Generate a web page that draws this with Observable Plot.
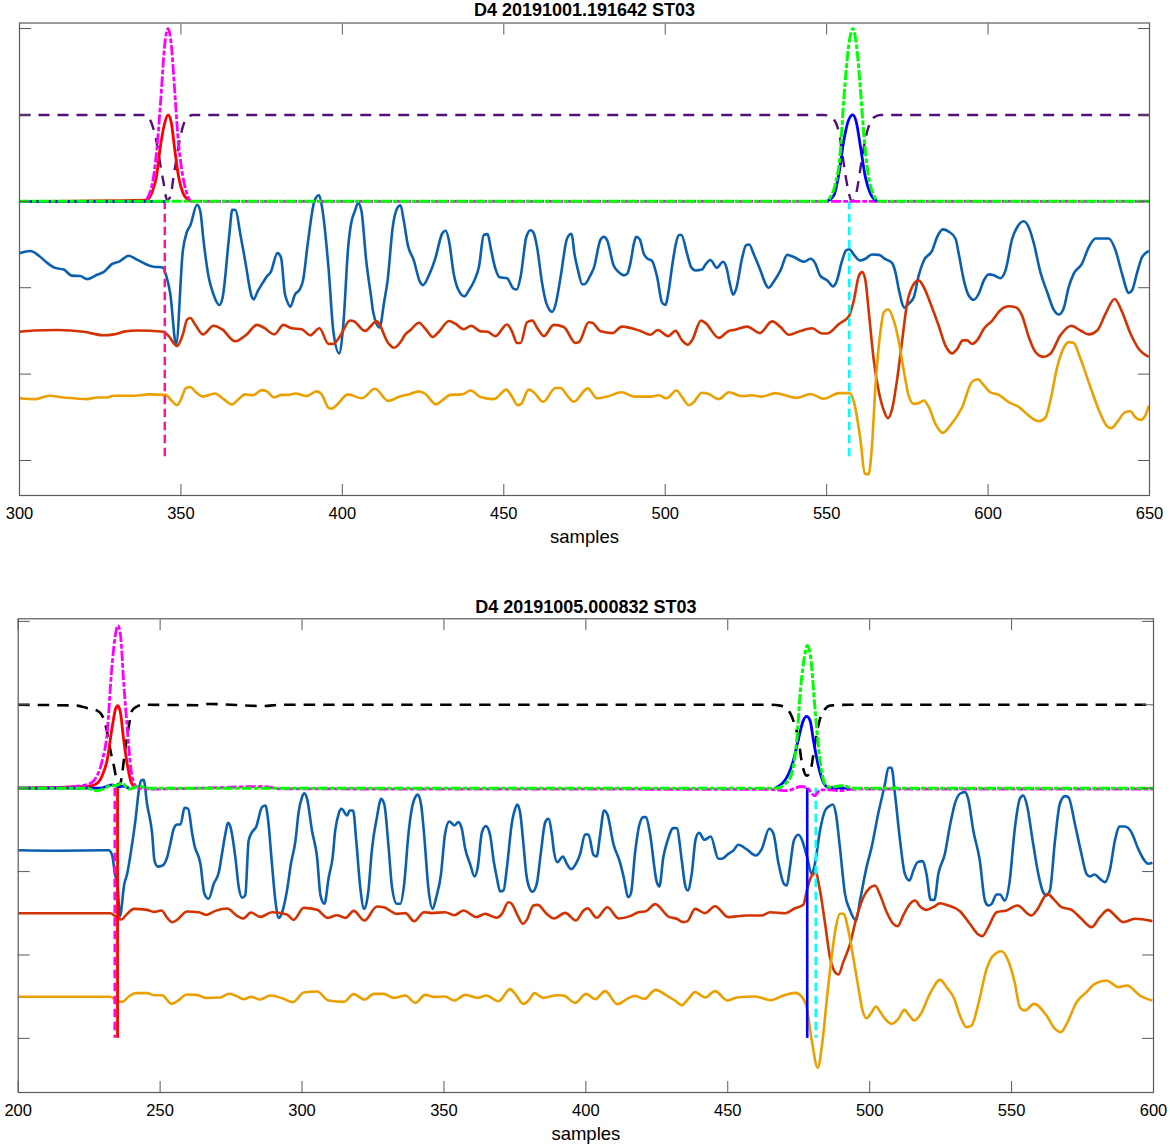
<!DOCTYPE html>
<html>
<head>
<meta charset="utf-8">
<script src="https://cdn.jsdelivr.net/npm/d3@7"></script>
<script src="https://cdn.jsdelivr.net/npm/@observablehq/plot@0.6"></script>
<style>
  body { margin: 0; background: white; }
  svg { display: block; }
</style>
</head>
<body>
<div id="chart"></div>
<script>
// [sample, value]
const titleTop = "D4 20191001.191642 ST03";
const titleBottom = "D4 20191005.000832 ST03";
const xLabel = "samples";
const xTicksTop = [300, 350, 400, 450, 500, 550, 600, 650];
const xTicksBottom = [200, 250, 300, 350, 400, 450, 500, 550, 600];
const yTicks = [-3, -2, -1, 0, 1, 2];

const traceZTop = [[300,-.6],[303.4,-.575],[306,-.63],[308.5,-.71],[311,-.77],[313.7,-.79],[316.2,-.86],[318.8,-.865],[321,-.9],[324,-.85],[326,-.82],[328.7,-.725],[331,-.695],[333.8,-.63],[336.4,-.675],[339,-.725],[341.5,-.757],[344.3,-.765],[345.6,-.88],[346.7,-1.07],[348.5,-1.656],[350.6,-.57],[351.8,-.36],[352.9,-.28],[355,-.04],[356,-.115],[357,-.455],[358.6,-.88],[360,-1.07],[361.9,-1.2],[362.9,-1.116],[365,-.38],[365.9,-.097],[366.9,-.1],[368.4,-.38],[369.9,-.69],[372,-1.11],[372.5,-1.135],[373.8,-1.04],[375.4,-.94],[376.6,-.87],[377.8,-.82],[379.9,-.6],[381,-.65],[382.2,-1.07],[382.7,-1.135],[383.9,-1.22],[385.3,-1.08],[386.8,-1.02],[387.8,-.92],[389.4,-.455],[391.4,.01],[392.8,.07],[393.8,-.09],[395.7,-.765],[397.2,-1.5],[399,-1.76],[400.3,-1.425],[401.8,-.53],[402.8,-.24],[403.9,-.11],[404.9,-.02],[405.9,-.11],[407.4,-.69],[409,-1.13],[409.5,-1.27],[411.5,-1.46],[413,-1.15],[414,-.92],[415.6,-.3],[417,-.08],[418,-.046],[419,-.22],[420.3,-.51],[422.1,-.68],[424,-.93],[425,-.97],[426.8,-.857],[428.8,-.66],[430.9,-.375],[432,-.34],[433,-.45],[434.5,-.84],[436,-1.03],[437.8,-1.1],[439.2,-1.03],[440.9,-.915],[442.3,-.76],[443.8,-.39],[445,-.38],[446,-.55],[447.4,-.78],[448.7,-.88],[451,-.89],[453,-1.01],[454,-1.02],[455.2,-.875],[457,-.41],[458.3,-.335],[459.3,-.37],[460.3,-.53],[461.9,-.955],[463.1,-1.17],[465,-1.28],[466,-1.2],[467.6,-.875],[469.6,-.43],[471,-.375],[471.9,-.61],[473,-.8],[474.3,-.96],[475,-.96],[476.8,-.857],[477.9,-.77],[479.9,-.45],[481,-.41],[482,-.45],[484,-.74],[485.6,-.82],[487.2,-.857],[488.2,-.84],[489.2,-.72],[490.3,-.49],[491,-.41],[492.1,-.44],[493.4,-.61],[494.4,-.66],[495.9,-.69],[497.5,-.876],[499,-1.17],[500,-1.2],[501.1,-1.03],[502.1,-.76],[503.2,-.51],[504.2,-.39],[505,-.39],[506.8,-.61],[508,-.76],[509.4,-.8],[511.4,-.79],[512.5,-.73],[514,-.68],[516,-.77],[517.9,-.7],[519,-.77],[520,-.95],[521,-1.08],[522,-1.01],[523.8,-.66],[525,-.51],[526,-.5],[527.4,-.61],[529.5,-.8],[531,-.95],[532,-1],[533.6,-.93],[535.7,-.8],[537.8,-.62],[539.8,-.645],[543,-.7],[545,-.665],[546.5,-.72],[548,-.86],[550.2,-.915],[552,-.985],[553,-.935],[554.8,-.685],[556,-.57],[557,-.555],[558.6,-.625],[560.3,-.685],[562,-.665],[564,-.615],[566.2,-.62],[568.2,-.67],[570.3,-.715],[571.3,-.82],[572.4,-1.03],[574.1,-1.23],[575.4,-1.185],[577,-1.11],[578.5,-.86],[580.1,-.685],[582.7,-.57],[584.2,-.415],[586,-.325],[587.8,-.35],[589.9,-.43],[590.9,-.605],[592.5,-.915],[594,-1.09],[595.6,-1.14],[597.1,-1.07],[598.7,-.915],[600.2,-.845],[601.8,-.855],[603.8,-.89],[605.4,-.8],[607.5,-.43],[609,-.3],[611,-.23],[612.6,-.3],[614.2,-.49],[616.2,-.82],[618.3,-1.05],[620.4,-1.26],[621.9,-1.31],[623.4,-1.24],[625,-.99],[626.5,-.84],[629.1,-.72],[631.2,-.53],[633.3,-.43],[637.4,-.43],[639.5,-.57],[641.5,-.84],[643.6,-1.06],[644.6,-1.03],[646.2,-.82],[647.7,-.645],[649.8,-.575]];

const traceNTop = [[300,-1.51],[304.4,-1.495],[311.6,-1.49],[319.9,-1.51],[326,-1.55],[329.2,-1.54],[332.8,-1.505],[336.4,-1.495],[344.6,-1.51],[346.2,-1.56],[348.8,-1.675],[350.6,-1.54],[351.9,-1.37],[352.9,-1.35],[354.4,-1.425],[356.8,-1.54],[360.1,-1.44],[362.7,-1.48],[366.8,-1.62],[370.4,-1.54],[373.5,-1.43],[375.6,-1.46],[378.9,-1.54],[381.8,-1.43],[384.3,-1.47],[387.4,-1.48],[390,-1.55],[392.9,-1.47],[395.7,-1.65],[397.2,-1.65],[399.3,-1.56],[402.4,-1.38],[403.4,-1.385],[407,-1.5],[410.6,-1.39],[414.2,-1.64],[416,-1.695],[418,-1.63],[419.5,-1.54],[421.1,-1.49],[423.7,-1.405],[425.7,-1.475],[428,-1.57],[429.9,-1.51],[433,-1.386],[435,-1.417],[437.6,-1.48],[439.9,-1.44],[442.8,-1.505],[445,-1.51],[447.4,-1.56],[451,-1.425],[452.6,-1.51],[454.1,-1.64],[455.2,-1.64],[457.2,-1.4],[458.8,-1.38],[460.5,-1.475],[462.4,-1.56],[465.5,-1.43],[468.6,-1.455],[472.2,-1.64],[473.4,-1.625],[476.3,-1.4],[477.4,-1.405],[480,-1.505],[483.6,-1.525],[486.6,-1.45],[492.3,-1.5],[495.4,-1.545],[497.7,-1.49],[500.9,-1.56],[503.2,-1.5],[505.2,-1.61],[507,-1.66],[508.3,-1.61],[511.1,-1.38],[512.5,-1.41],[516.6,-1.58],[519.7,-1.5],[521.2,-1.49],[525.4,-1.45],[529.3,-1.525],[533.1,-1.39],[535.7,-1.455],[538.3,-1.545],[541.9,-1.5],[545.5,-1.47],[548.6,-1.53],[550.2,-1.53],[553.8,-1.42],[556.9,-1.33],[558.4,-1.15],[560,-.86],[561,-.82],[562,-.915],[563,-1.26],[564.6,-1.84],[566.2,-2.21],[567.7,-2.42],[569,-2.51],[570.3,-2.4],[571.8,-2.07],[573.4,-1.61],[574.9,-1.185],[576.5,-.99],[578.5,-.915],[580.3,-1.01],[582.2,-1.185],[584.7,-1.44],[586.8,-1.67],[588.9,-1.76],[590.4,-1.71],[592.2,-1.61],[593.5,-1.61],[595,-1.65],[596.6,-1.61],[598.7,-1.475],[601.3,-1.38],[603.8,-1.26],[606.4,-1.215],[608.5,-1.225],[610.5,-1.32],[612.6,-1.57],[614.7,-1.745],[617.2,-1.8],[619.3,-1.765],[622.4,-1.55],[625.8,-1.44],[628.6,-1.495],[631.2,-1.54],[633.8,-1.495],[636.4,-1.3],[639.2,-1.13],[641.5,-1.28],[644.1,-1.53],[646.7,-1.71],[649.8,-1.8]];

const traceETop = [[300,-2.28],[304.9,-2.29],[309.1,-2.25],[313.7,-2.27],[320.9,-2.29],[324,-2.27],[327.1,-2.27],[329.2,-2.25],[335.9,-2.25],[340,-2.235],[345.2,-2.24],[347.2,-2.31],[348.8,-2.36],[349.8,-2.31],[351.6,-2.16],[352.9,-2.15],[354.4,-2.2],[356.8,-2.26],[360.6,-2.225],[363.2,-2.29],[365.8,-2.35],[367.8,-2.29],[369.9,-2.235],[372.3,-2.245],[375,-2.185],[376.6,-2.2],[378.9,-2.27],[381.2,-2.24],[383.3,-2.24],[385.4,-2.225],[388.9,-2.255],[392,-2.2],[393.6,-2.235],[395.7,-2.39],[396.7,-2.4],[398.2,-2.36],[401.8,-2.235],[406,-2.28],[410.1,-2.17],[414.2,-2.31],[418,-2.255],[420.6,-2.235],[423.7,-2.2],[425.7,-2.23],[429,-2.35],[430.9,-2.305],[433.5,-2.24],[437.1,-2.235],[439.7,-2.19],[442.8,-2.265],[446.9,-2.29],[450.8,-2.18],[452.6,-2.265],[454.3,-2.36],[455.4,-2.345],[457.7,-2.18],[459.3,-2.21],[462.2,-2.32],[466,-2.16],[467.6,-2.16],[469.6,-2.245],[471.7,-2.32],[476,-2.165],[478.9,-2.28],[482,-2.26],[486.6,-2.21],[490.3,-2.26],[495.4,-2.26],[498,-2.245],[500.4,-2.28],[503.5,-2.19],[505.2,-2.265],[507.3,-2.36],[508.8,-2.325],[511.4,-2.215],[513.5,-2.23],[516.6,-2.29],[519.7,-2.21],[523.8,-2.255],[526.9,-2.245],[530,-2.26],[534.1,-2.22],[535.7,-2.23],[540.9,-2.275],[545,-2.23],[549.1,-2.285],[553.8,-2.22],[557,-2.22],[558.6,-2.345],[560.5,-2.77],[561.8,-3.15],[563,-3.16],[564,-2.85],[565.1,-2.15],[566.7,-1.495],[567.7,-1.285],[569,-1.25],[570.8,-1.38],[572.3,-1.61],[573.9,-1.96],[575.4,-2.25],[577,-2.345],[578.5,-2.335],[580.1,-2.305],[581.6,-2.38],[583.7,-2.575],[586,-2.68],[588.3,-2.595],[592,-2.38],[595,-2.09],[596.8,-2.06],[598.7,-2.13],[600.7,-2.21],[603.3,-2.24],[606.4,-2.325],[609.5,-2.38],[612.6,-2.48],[615.7,-2.545],[617.8,-2.5],[619.3,-2.305],[621.4,-1.92],[623.5,-1.69],[625,-1.63],[626.5,-1.64],[628.6,-1.82],[631.7,-2.15],[634.8,-2.46],[636.9,-2.605],[638.2,-2.625],[640,-2.555],[642.5,-2.44],[644.1,-2.43],[645.6,-2.5],[647.2,-2.53],[648.7,-2.48],[649.8,-2.365]];

const pLabelTop = [[300,0],[338.5,0],[340,.066],[341.5,.28],[342.6,.625],[343.8,1.2],[344.9,1.78],[346,2],[347,1.82],[348,1.32],[349,.78],[350.3,.355],[351.6,.12],[353.4,0],[650,0]];
const pProbTop = [[300,0],[339.5,.015],[341,.1],[342.4,.28],[343.6,.625],[344.9,.895],[346,1],[347,.915],[348,.625],[349.3,.28],[350.6,.1],[351.8,.03],[353.4,0]];
const sProbTop = [[300,0],[345,0],[346,NaN],[550.2,0],[552.2,.066],[553.8,.32],[555.3,.7],[556.9,.95],[558.1,1],[559.2,.915],[560.5,.625],[562,.28],[563.6,.085],[565.6,0]];
const sLabelTop = [[300,0],[549.6,0],[551.2,.05],[552.7,.2],[554.1,.51],[555.3,1.17],[556.9,1.82],[558.1,2],[559.2,1.82],[560.5,1.28],[561.5,.78],[562.7,.355],[564.4,.085],[566.2,0],[650,0]];
const noiseTop = [[300,1],[339,1],[341,.895],[342.6,.66],[343.6,.43],[344.6,.22],[345.7,.015],[346.7,.05],[347.7,.28],[348.7,.51],[349.8,.74],[351.3,.93],[353.7,1],[549.1,1],[551.7,.965],[553.8,.8],[555,.51],[556.3,.2],[557.9,0],[559.2,.1],[560.5,.39],[561.5,.625],[562.8,.84],[564.6,.97],[566.7,1],[650,1]];
const picksPTop = [345];
const picksSTop = [557];

const traceZBottom = [[200,-.745],[213.7,-.75],[231.9,-.745],[233.1,-.805],[234.3,-1.065],[234.9,-1.107],[235.8,-1.54],[237.4,-1.147],[238.4,-1.025],[239.8,-.745],[241.3,-.387],[242.5,-.03],[243.3,.09],[244.2,.1],[245.4,-.19],[247.2,-.547],[248,-.866],[249.2,-.94],[250.7,-.93],[252.5,-.826],[253.6,-.667],[254.8,-.487],[256,-.435],[257.2,-.435],[258.6,-.235],[259.9,-.247],[261.3,-.547],[262.1,-.687],[264.2,-.906],[265.6,-1.265],[267.1,-1.325],[268.9,-1.146],[270.7,-1.006],[271.8,-.786],[273,-.547],[273.9,-.415],[274.8,-.467],[276.5,-.826],[277.7,-1.186],[278.9,-1.313],[280,-1.285],[281.2,-.627],[282.4,-.527],[283.8,-.467],[285.9,-.228],[287.1,-.208],[288,-.367],[289.4,-.906],[290.6,-1.345],[291.8,-1.555],[293,-1.487],[294.7,-1.227],[296.1,-.907],[297.7,-.627],[298.8,-.287],[300,-.108],[300.8,-.06],[301.8,-.128],[303.5,-.507],[305.3,-.826],[306.5,-1.285],[307.9,-1.386],[309.4,-1.07],[310.8,-.826],[311.7,-.507],[312.9,-.307],[313.9,-.247],[315.9,-.327],[316.8,-.267],[318,-.267],[319.1,-.627],[320.5,-1.186],[321.9,-1.447],[323.4,-1.227],[324.6,-.745],[326.4,-.347],[327.9,-.128],[329,-.196],[330.5,-.707],[331.7,-1.186],[333.4,-1.386],[334.6,-1.386],[336,-1.147],[337.5,-.547],[338.9,-.207],[339.9,-.107],[340.8,-.075],[342,-.207],[343,-.547],[344.6,-1.226],[346,-1.447],[347.3,-1.306],[348.9,-1.047],[350.4,-.547],[351.9,-.399],[353.7,-.447],[355.1,-.407],[356.3,-.487],[357.5,-.727],[359.2,-.907],[360.8,-1.059],[361.9,-.947],[363.4,-.527],[364.8,-.455],[366.3,-.567],[367.5,-.867],[368.6,-1.067],[369.8,-1.238],[371,-1.226],[372.2,-.947],[373.9,-.427],[375.1,-.247],[375.9,-.195],[376.9,-.307],[378,-.667],[379,-1.026],[380,-1.186],[381.2,-1.242],[382.7,-1.147],[384.1,-.787],[385.7,-.407],[386.8,-.367],[388,-.547],[388.8,-.767],[390,-.887],[391.9,-.819],[393.3,-.907],[394.8,-.971],[396.8,-.887],[398,-.787],[399.7,-.555],[400.9,-.555],[402.7,-.799],[403.8,-.819],[405,-.567],[406.4,-.267],[407.6,-.315],[409.7,-.667],[412,-.887],[413.2,-1.047],[415,-1.306],[415.9,-1.259],[417.3,-.787],[418.8,-.447],[420.3,-.347],[421.2,-.347],[422.6,-.547],[425,-1.127],[425.9,-1.179],[427.3,-.827],[428.8,-.627],[430.8,-.479],[432,-.479],[433.8,-.867],[435,-1.167],[435.9,-1.227],[437.3,-1.027],[438.7,-.607],[439.9,-.535],[441.8,-.619],[444,-.579],[446.7,-.847],[447.9,-.847],[450.2,-.787],[452,-.747],[453.7,-.679],[456.7,-.735],[459.8,-.807],[462,-.727],[464.6,-.487],[466.1,-.547],[467.8,-.887],[469.8,-1.147],[470.8,-1.167],[471.9,-.947],[473.3,-.627],[474.9,-.559],[476,-.607],[477.8,-.807],[479.6,-1.027],[480.7,-.907],[482.5,-.507],[484.3,-.267],[485.8,-.215],[487,-.195],[488.1,-.307],[489.5,-.707],[491.3,-1.267],[493.1,-1.467],[495.2,-1.587],[496.6,-1.347],[498.9,-.947],[500.7,-.707],[503,-.307],[505.4,.053],[506.6,.245],[507.7,.245],[508.9,-.067],[510.7,-.627],[512.4,-1.027],[514,-1.107],[515.4,-.987],[516.9,-.887],[518.7,-.875],[520,-1.027],[521.5,-1.339],[522.8,-1.339],[524.2,-1.027],[526.5,-.787],[528.3,-.447],[530,-.187],[531.8,-.067],[533.6,-.047],[534.7,-.127],[536.5,-.507],[538.8,-.867],[540.6,-1.347],[541.8,-1.407],[543,-1.387],[544.7,-1.275],[545.9,-1.275],[547.6,-1.347],[549.2,-1.147],[551.2,-.467],[552.9,-.127],[554.1,-.087],[555.3,-.187],[557.6,-.667],[559.4,-1.027],[561.1,-1.247],[562.3,-1.287],[563.5,-1.227],[565.3,-.627],[567,-.187],[568.8,-.095],[570,-.107],[572.3,-.427],[574.6,-.787],[576.4,-1.027],[577.6,-1.059],[579.3,-1.035],[581.1,-1.087],[582.9,-1.127],[584.6,-.987],[586.4,-.627],[588.1,-.459],[589.9,-.459],[592.2,-.527],[594.6,-.727],[597,-.875],[598.1,-.907],[599.6,-.895]];

const traceNBottom = [[200,-1.5],[232.5,-1.5],[234.9,-1.555],[236.3,-1.575],[238.4,-1.507],[240.7,-1.447],[245.4,-1.459],[247.8,-1.483],[250.5,-1.467],[252.5,-1.555],[254.2,-1.607],[256,-1.579],[259.5,-1.479],[263.6,-1.487],[266.3,-1.519],[269.5,-1.471],[273.6,-1.443],[277,-1.527],[279.2,-1.563],[282,-1.491],[285.3,-1.543],[289.4,-1.487],[294.7,-1.515],[297,-1.579],[300.6,-1.435],[305.3,-1.459],[309.1,-1.555],[312.3,-1.523],[315.3,-1.555],[318.2,-1.471],[322,-1.587],[326.4,-1.419],[328.8,-1.427],[333.4,-1.507],[336.4,-1.498],[339.5,-1.594],[343,-1.487],[345.7,-1.498],[350.4,-1.487],[353.6,-1.523],[356.9,-1.467],[361.4,-1.546],[364.5,-1.507],[368.6,-1.554],[370.4,-1.507],[372.7,-1.367],[373.9,-1.387],[375.7,-1.507],[377.8,-1.626],[379.2,-1.579],[381.5,-1.407],[383,-1.399],[386.2,-1.507],[388.8,-1.562],[392.7,-1.495],[396.5,-1.586],[399.2,-1.467],[400.6,-1.439],[403.8,-1.554],[407.6,-1.427],[411.5,-1.562],[415.6,-1.534],[418.5,-1.487],[421.2,-1.475],[424.4,-1.39],[429.1,-1.539],[432,-1.566],[434.4,-1.606],[435.8,-1.594],[438.5,-1.447],[442,-1.498],[445.5,-1.415],[450.2,-1.546],[456.7,-1.526],[462,-1.526],[464.9,-1.487],[470.2,-1.499],[473.7,-1.439],[476.6,-1.399],[478,-1.207],[479.6,-1.047],[481,-1.015],[482.5,-1.227],[484.3,-1.626],[486,-2.027],[487.8,-2.206],[489,-2.234],[490.7,-2.086],[493.1,-1.866],[495.4,-1.546],[497.8,-1.307],[500.1,-1.195],[501.9,-1.167],[503.6,-1.275],[506,-1.487],[508.3,-1.626],[509.9,-1.654],[511.8,-1.527],[514.2,-1.387],[516,-1.347],[517.7,-1.415],[520,-1.459],[522.4,-1.427],[524.8,-1.379],[527.7,-1.407],[531.8,-1.475],[535.3,-1.626],[538.3,-1.754],[539.7,-1.774],[541.8,-1.666],[544.7,-1.487],[548.2,-1.467],[552,-1.407],[557,-1.527],[558.8,-1.467],[562.7,-1.267],[564.7,-1.327],[567.6,-1.427],[571.1,-1.459],[574.6,-1.566],[578.2,-1.666],[581.1,-1.546],[584,-1.459],[586.4,-1.527],[589.3,-1.606],[593.4,-1.566],[599.6,-1.594]];

const traceEBottom = [[200,-2.5],[232.5,-2.5],[234.9,-2.554],[236.6,-2.562],[239,-2.498],[241.3,-2.458],[245.4,-2.458],[247.8,-2.482],[250.7,-2.482],[254,-2.586],[256,-2.554],[259.5,-2.474],[263,-2.478],[266,-2.514],[271.2,-2.51],[274.2,-2.465],[276.5,-2.486],[279.5,-2.53],[282,-2.502],[285.1,-2.534],[288.8,-2.486],[293.5,-2.526],[296.8,-2.566],[300.6,-2.45],[305.3,-2.438],[309.4,-2.546],[314.7,-2.562],[318.2,-2.47],[322,-2.534],[325.3,-2.466],[328.8,-2.466],[332.3,-2.514],[336.4,-2.486],[339.9,-2.574],[343.4,-2.478],[346.3,-2.502],[350.4,-2.498],[353.6,-2.546],[357.5,-2.478],[361.8,-2.514],[364.9,-2.486],[369.2,-2.554],[373.3,-2.41],[375.1,-2.466],[378,-2.586],[379.8,-2.546],[381.9,-2.458],[385,-2.514],[389.8,-2.482],[392.1,-2.486],[396.2,-2.574],[400.1,-2.466],[403.3,-2.53],[406.8,-2.434],[411.1,-2.59],[415,-2.518],[417.3,-2.49],[420.6,-2.526],[424.6,-2.418],[428.5,-2.486],[431.4,-2.546],[433.8,-2.602],[436.1,-2.526],[438.5,-2.446],[442,-2.51],[445.5,-2.434],[449.9,-2.546],[453.1,-2.51],[459.6,-2.498],[465.1,-2.542],[469.6,-2.486],[473.7,-2.454],[476,-2.498],[477.8,-2.626],[479.6,-3.026],[481.7,-3.352],[483.4,-3.026],[485.1,-2.466],[486.6,-2.027],[488.1,-1.666],[489.5,-1.506],[490.7,-1.506],[492.5,-1.706],[494.2,-2.027],[496,-2.386],[497.5,-2.666],[498.9,-2.758],[500.7,-2.686],[502.2,-2.618],[503.4,-2.666],[505.4,-2.766],[507.7,-2.826],[510.1,-2.766],[512.2,-2.658],[514,-2.726],[515.7,-2.786],[518,-2.706],[521.2,-2.466],[524.8,-2.298],[527.1,-2.386],[529.8,-2.526],[531.8,-2.726],[534.1,-2.866],[535.9,-2.846],[538.3,-2.586],[541.2,-2.167],[543.5,-2.007],[546.5,-1.955],[548.8,-2.067],[551.2,-2.346],[552.9,-2.626],[554.7,-2.666],[557.9,-2.586],[562.3,-2.726],[565.3,-2.886],[567.4,-2.926],[569.4,-2.826],[572.9,-2.566],[576.4,-2.446],[579.3,-2.346],[583.4,-2.306],[587.6,-2.386],[590.7,-2.366],[595.2,-2.486],[599.6,-2.546]];

const pLabelBottom = [[200,0],[217.3,.012],[220.8,.024],[224.9,.05],[227.8,.15],[229.6,.33],[231.3,.65],[233,1.45],[234.3,1.85],[235.1,1.95],[236,1.85],[237.2,1.25],[238.4,.73],[239.8,.21],[241.3,.03],[243,0],[245.4,-.012],[264.2,0],[286.5,.02],[292.4,-.008],[464.9,-.015],[470.8,-.03],[476,.02],[478.4,-.01],[480.7,-.09],[482.5,-.02],[486,-.02],[490,-.03],[493,-.015],[496.6,-.01],[600,-.01]];
const pProbBottom = [[200,0],[224.3,.02],[227.2,.044],[229.6,.15],[231.3,.33],[233.1,.73],[234.3,.95],[235.1,.99],[236,.91],[237.2,.57],[238.4,.29],[239.8,.07],[241.3,0]];
const sProbBottom = [[200,0],[229,0],[233,.04],[235.4,.02],[237.2,.024],[239,0],[240,NaN],[466.7,0],[469.6,.07],[471.4,.17],[473.1,.33],[474.9,.59],[476.6,.81],[477.8,.86],[479,.81],[480.2,.57],[481.9,.27],[483.7,.07],[485.4,.01],[493,0]];
const sLabelBottom = [[200,0],[224,0],[227.8,-.03],[230,-.01],[232.5,.03],[234.3,.03],[236.6,.06],[239,-.01],[242.5,.024],[245.4,0],[467.2,0],[470.2,.05],[472.5,.17],[474.3,.57],[475.7,1.21],[477.2,1.61],[478,1.71],[479.2,1.57],[480.7,.97],[482.5,.33],[484.3,.05],[486,.01],[490.1,.03],[494.2,0],[600,0]];
const noiseBottom = [[200,1],[220.8,.99],[224.3,.96],[227.8,.93],[229.6,.87],[231.1,.71],[232.5,.45],[233.7,.27],[234.9,.07],[235.8,.03],[236.6,.17],[237.8,.49],[239,.75],[240.1,.93],[241.9,.98],[244.2,1],[264,.995],[267,1.01],[286.5,.985],[292.4,1],[464.9,1],[468.4,.99],[471.4,.93],[473.1,.81],[474.9,.59],[476,.33],[477.8,.15],[479,.19],[480.2,.41],[481.3,.65],[482.5,.83],[484.3,.95],[486,.99],[493.1,1],[600,1]];
const picksPBottom = [234];
const picksSBottom = [481];
const autoPBottom = [235];
const autoSBottom = [478];

const font = "Liberation Sans, Arial, sans-serif";
const axisColor = "#5a5a5a";

const trace = (data, stroke, strokeWidth = 2.6, strokeDasharray, strokeDashoffset) =>
  Plot.line(data, { x: d => d[0], y: d => d[1], stroke, strokeWidth, strokeDasharray, strokeDashoffset, strokeLinecap: "butt", curve: "monotone-x" });

const pick = (at, stroke, strokeWidth, strokeDasharray) =>
  Plot.ruleX(at, { x: d => d, y1: 0, y2: -3, stroke, strokeWidth, strokeDasharray });

function axes(xTicks) {
  return [
    Plot.frame({ stroke: axisColor, strokeWidth: 1.2 }),
    Plot.axisX({ anchor: "bottom", ticks: xTicks, tickSize: -11, tickPadding: 22.5, stroke: axisColor, fill: "black",
      fontSize: 16.5, label: null }),
    Plot.axisX({ anchor: "top", ticks: xTicks, tickSize: -11, stroke: axisColor, tickFormat: () => "", label: null }),
    Plot.axisY({ anchor: "left", ticks: yTicks, tickSize: -12, stroke: axisColor, tickFormat: () => "", label: null }),
    Plot.axisY({ anchor: "right", ticks: yTicks, tickSize: -12, stroke: axisColor, tickFormat: () => "", label: null }),
    Plot.text([xLabel], { text: d => d, frameAnchor: "bottom", lineAnchor: "middle", dy: 42, fontSize: 18.5 })
  ];
}

const titleMark = (title, dy) =>
  Plot.text([title], { text: d => d, frameAnchor: "top", lineAnchor: "middle", dy, fontWeight: "bold", fontSize: 18 });

const chartTop = Plot.plot({
  width: 1170, height: 560,
  marginLeft: 19, marginRight: 21, marginTop: 22.5, marginBottom: 65,
  style: { fontFamily: font, background: "white" },
  x: { domain: [300, 650] },
  y: { domain: [-3.405, 2.064] },
  marks: [
    trace(traceZTop, "#0a5fb0"),
    trace(traceNTop, "#d23300"),
    trace(traceETop, "#eca000"),
    pick(picksPTop, "#ff1493", 2.5, "8.5,4.5"),
    pick(picksSTop, "#00ffff", 2.5, "8.5,4.5"),
    trace(noiseTop, "#54107a", 2.4, "11,8"),
    trace(pProbTop, "#ff0000", 2.8),
    trace(pLabelTop, "#ff00ff", 2.8, "10.3,2,4.7,2", 5),
    trace(sProbTop, "#0000ff", 2.8),
    trace(sLabelTop, "#00ff00", 3, "10.3,2,4.7,2"),
    titleMark(titleTop, -12.5),
    ...axes(xTicksTop)
  ]
});

const chartBottom = Plot.plot({
  width: 1170, height: 588,
  marginLeft: 17.7, marginRight: 17, marginTop: 58.3, marginBottom: 56,
  style: { fontFamily: font, background: "white" },
  x: { domain: [200, 600] },
  y: { domain: [-3.649, 2.031] },
  marks: [
    trace(traceZBottom, "#0a5fb0"),
    trace(traceNBottom, "#d23300"),
    trace(traceEBottom, "#eca000"),
    pick(picksPBottom, "#ff00ff", 2.5, "8.5,4.5"),
    pick(picksSBottom, "#00ffff", 2.5, "8.5,4.5"),
    pick(autoPBottom, "#ff0000", 2.8),
    pick(autoSBottom, "#0000ff", 2.6),
    trace(noiseBottom, "black", 2.6, "11.5,8"),
    trace(pProbBottom, "#ff0000", 2.8),
    trace(pLabelBottom, "#ff00ff", 2.8, "10.3,2,4.7,2", 5),
    trace(sProbBottom, "#0000ff", 2.8),
    trace(sLabelBottom, "#00ff00", 3, "10.3,2,4.7,2"),
    titleMark(titleBottom, -11.3),
    ...axes(xTicksBottom)
  ]
});

d3.select("#chart").append(() => chartTop);
d3.select("#chart").append(() => chartBottom);
</script>
</body>
</html>
